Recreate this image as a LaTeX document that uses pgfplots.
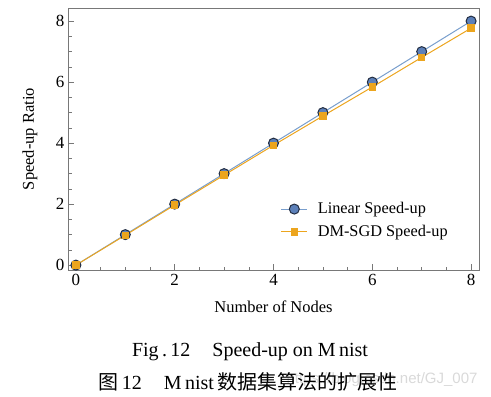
\documentclass[border=0pt]{standalone}
\usepackage{pgfplots}
\pgfplotsset{compat=1.18}
\usepackage{fontspec}
\setmainfont{Liberation Serif}
\newfontfamily\cjk{Noto Sans CJK SC}
\newfontfamily\wm{Liberation Sans}
\definecolor{linblue}{RGB}{120,158,205}
\definecolor{markblue}{RGB}{92,128,185}
\definecolor{markedge}{RGB}{35,45,65}
\definecolor{sgdorange}{RGB}{236,165,30}
\definecolor{axgray}{RGB}{120,120,120}
\begin{document}
\begin{tikzpicture}[x=1pt,y=1pt]
\useasboundingbox (0,0) rectangle (491,397);
\begin{axis}[
  at={(68pt,127pt)}, anchor=south west,
  scale only axis, width=411pt, height=262pt,
  xmin=-0.16, xmax=8.16, ymin=-0.16, ymax=8.43,
  xtick={0,2,4,6,8}, ytick={0,2,4,6,8},
  minor tick num=3,
  tick align=inside,
  xtick pos=bottom, ytick pos=left,
  major tick length=6pt, minor tick length=3.5pt,
  every tick/.style={axgray, line width=0.6pt},
  axis line style={axgray, line width=0.8pt},
  tick label style={font=\fontsize{17}{19}\selectfont},
  xticklabel style={yshift=-1pt},
  /pgf/number format/assume math mode=true,
  xlabel={Number of Nodes}, ylabel={Speed-up Ratio},
  label style={font=\fontsize{16.5}{19}\selectfont},
  xlabel style={at={(axis description cs:0.5,0)}, anchor=north, yshift=-27pt},
  ylabel style={at={(axis description cs:0,0.5)}, anchor=south, yshift=27pt},
  legend style={at={(0.51,0.273)}, anchor=north west, draw=none, fill=none,
    font=\fontsize{16.3}{19}\selectfont, row sep=6pt},
  legend image code/.code={%
    \draw[mark repeat=2,mark phase=2] plot coordinates {(0pt,0pt) (13pt,0pt) (26pt,0pt)};
    \path (34pt,0pt);},
  legend cell align=left,
  clip=false,
]
\addplot[linblue, line width=1pt, mark=*, mark size=5pt,
  mark options={fill=markblue, draw=markedge, line width=1pt}]
  coordinates {(0,0) (1,1) (2,2) (3,3) (4,4) (5,5) (6,6) (7,7) (8,8)};
\addlegendentry{Linear Speed-up}
\addplot[sgdorange, line width=1pt, mark=square*, mark size=3.2pt,
  mark options={fill=sgdorange, draw=sgdorange}]
  coordinates {(0,0) (1,0.98) (2,1.97) (3,2.95) (4,3.93) (5,4.89) (6,5.84) (7,6.81) (8,7.77)};
\addlegendentry{DM-SGD Speed-up}
\end{axis}
\node[font=\fontsize{20}{22}\selectfont] at (250,45) {Fig\,.\,12\hspace{1.1em}Speed-up on M\,nist};
\node[text=black!15, font=\wm\fontsize{15}{17}\selectfont, anchor=east] at (481,17) {https://blog.csdn.net/GJ\_007};
\node[font=\fontsize{20}{22}\selectfont] at (248,15) {{\cjk 图}\,12\hspace{1.1em}M\,nist\,{\cjk 数据集算法的扩展性}};
\end{tikzpicture}
\end{document}
